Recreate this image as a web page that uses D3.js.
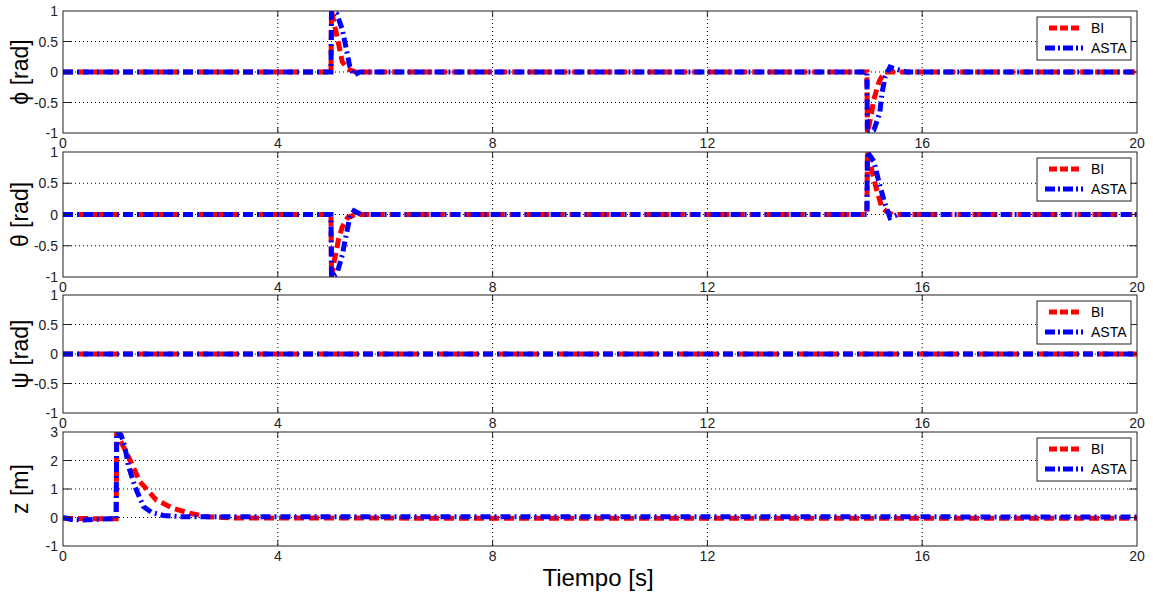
<!DOCTYPE html>
<html>
<head>
<meta charset="utf-8">
<script src="https://cdn.jsdelivr.net/npm/d3@7"></script>
<style>
body { margin: 0; background: #fff; }
svg { display: block; font-family: "Liberation Sans", Arial, sans-serif; }
</style>
</head>
<body>
<svg id="chart" width="1153" height="599"></svg>
<script>
// ticks
var xTicks = [0, 4, 8, 12, 16, 20];
var angleTicks = [-1, -0.5, 0, 0.5, 1];
var zTicks = [-1, 0, 1, 2, 3];
var legendNames = ["BI", "ASTA"];

// phi
var phiTimeBI = [0, 4.99, 5.0, 5.05, 5.13, 5.2, 5.3, 5.45, 14.97, 14.98, 15.05, 15.1, 15.2, 15.3, 20];
var phiBI     = [0, 0, 1, 0.8, 0.47, 0.17, 0.05, 0, 0, -1, -0.7, -0.45, -0.15, 0, 0];
var phiTimeASTA = [0, 4.99, 5.0, 5.1, 5.2, 5.28, 5.34, 5.42, 5.52, 14.97, 14.98, 15.1, 15.21, 15.25, 15.31, 15.4, 15.55, 15.7, 20];
var phiASTA     = [0, 0, 1, 0.95, 0.7, 0.36, 0.09, -0.05, 0, 0, -1, -0.95, -0.67, -0.35, -0.08, 0.08, 0.04, 0, 0];

// theta
var thetaTimeBI = [0, 4.99, 5.0, 5.05, 5.13, 5.2, 5.3, 5.45, 14.97, 14.98, 15.05, 15.15, 15.25, 15.33, 15.45, 20];
var thetaBI     = [0, 0, -1, -0.75, -0.4, -0.2, -0.05, 0, 0, 1, 0.75, 0.4, 0.11, 0.05, 0, 0];
var thetaTimeASTA = [0, 4.99, 5.0, 5.1, 5.2, 5.28, 5.34, 5.42, 5.55, 14.97, 14.98, 15.1, 15.2, 15.3, 15.4, 15.55, 20];
var thetaASTA     = [0, 0, -1, -0.95, -0.65, -0.3, -0.05, 0.06, 0, 0, 1, 0.85, 0.5, 0.19, -0.05, 0, 0];

// psi
var psiTimeBI = [0, 20];
var psiBI     = [0, 0];
var psiTimeASTA = [0, 20];
var psiASTA     = [0, 0];

// z
var zTimeBI = [0, 0.5, 0.99, 1.0, 1.06, 1.19, 1.43, 1.74, 2.05, 2.36, 2.68, 3.2, 20];
var zBI     = [-0.03, -0.04, -0.04, 3, 2.72, 2.25, 1.26, 0.61, 0.32, 0.15, 0.03, -0.02, -0.03];
var zTimeASTA = [0, 0.15, 0.37, 0.6, 0.85, 0.99, 1.0, 1.08, 1.15, 1.22, 1.34, 1.5, 1.65, 1.87, 2.2, 20];
var zASTA     = [0, -0.07, -0.09, -0.07, -0.04, -0.04, 3, 2.9, 2.5, 1.8, 1.08, 0.38, 0.18, 0.07, 0.03, 0.02];

var svg = d3.select("#chart");
var LEFT = 63, RIGHT = 1137;
var panels = [
    {top: 11,  bottom: 133, label: "\u03d5 [rad]", ticks: angleTicks, dom: [-1, 1], tb: phiTimeBI, b: phiBI, ta: phiTimeASTA, a: phiASTA},
    {top: 152, bottom: 277, label: "\u03b8 [rad]", ticks: angleTicks, dom: [-1, 1], tb: thetaTimeBI, b: thetaBI, ta: thetaTimeASTA, a: thetaASTA},
    {top: 295, bottom: 413, label: "\u03c8 [rad]", ticks: angleTicks, dom: [-1, 1], tb: psiTimeBI, b: psiBI, ta: psiTimeASTA, a: psiASTA},
    {top: 432, bottom: 546, label: "z [m]", ticks: zTicks, dom: [-1, 3], tb: zTimeBI, b: zBI, ta: zTimeASTA, a: zASTA}
];

var x = d3.scaleLinear().domain([0, 20]).range([LEFT, RIGHT]);

panels.forEach(function(p, i) {
    var y = d3.scaleLinear().domain(p.dom).range([p.bottom, p.top]);
    var g = svg.append("g");

    // grid
    g.selectAll(".gx").data(xTicks.slice(1, -1)).enter().append("line")
        .attr("x1", function(d) { return x(d); }).attr("x2", function(d) { return x(d); })
        .attr("y1", p.top).attr("y2", p.bottom)
        .style("stroke", "#000").style("stroke-width", 1).style("stroke-dasharray", "1,3");
    g.selectAll(".gy").data(p.ticks.slice(1, -1)).enter().append("line")
        .attr("y1", function(d) { return y(d); }).attr("y2", function(d) { return y(d); })
        .attr("x1", LEFT).attr("x2", RIGHT)
        .style("stroke", "#000").style("stroke-width", 1).style("stroke-dasharray", "1,3");

    // clip + lines
    var cid = "clip" + i;
    svg.append("clipPath").attr("id", cid).append("rect")
        .attr("x", LEFT).attr("y", p.top).attr("width", RIGHT - LEFT).attr("height", p.bottom - p.top);

    var line = d3.line().x(function(d) { return x(d[0]); }).y(function(d) { return y(d[1]); });
    var lg = g.append("g").attr("clip-path", "url(#" + cid + ")");
    lg.append("path").datum(d3.zip(p.tb, p.b)).attr("d", line)
        .style("fill", "none").style("stroke", "#ff0000").style("stroke-width", 5)
        .style("stroke-dasharray", "10,5");
    lg.append("path").datum(d3.zip(p.ta, p.a)).attr("d", line)
        .style("fill", "none").style("stroke", "#0000ff").style("stroke-width", 5)
        .style("stroke-dasharray", "10,4,2,4");

    // box
    g.append("rect").attr("x", LEFT).attr("y", p.top)
        .attr("width", RIGHT - LEFT).attr("height", p.bottom - p.top)
        .style("fill", "none").style("stroke", "#222").style("stroke-width", 1);

    // ticks inside
    xTicks.slice(1, -1).forEach(function(t) {
        g.append("line").attr("x1", x(t)).attr("x2", x(t)).attr("y1", p.bottom).attr("y2", p.bottom - 6).style("stroke", "#222");
        g.append("line").attr("x1", x(t)).attr("x2", x(t)).attr("y1", p.top).attr("y2", p.top + 6).style("stroke", "#222");
    });
    p.ticks.slice(1, -1).forEach(function(t) {
        g.append("line").attr("y1", y(t)).attr("y2", y(t)).attr("x1", LEFT).attr("x2", LEFT + 8).style("stroke", "#222");
        g.append("line").attr("y1", y(t)).attr("y2", y(t)).attr("x1", RIGHT).attr("x2", RIGHT - 8).style("stroke", "#222");
    });

    // tick labels
    g.selectAll(".xl").data(xTicks).enter().append("text")
        .attr("x", function(d) { return x(d); }).attr("y", p.bottom + 15)
        .attr("text-anchor", "middle").style("font-size", "14px").style("fill", "#222")
        .text(function(d) { return d; });
    g.selectAll(".yl").data(p.ticks).enter().append("text")
        .attr("x", 58).attr("y", function(d) { return y(d) + 5; })
        .attr("text-anchor", "end").style("font-size", "14px").style("fill", "#222")
        .text(function(d) { return d; });

    // y label
    g.append("text")
        .attr("transform", "translate(28," + ((p.top + p.bottom) / 2) + ") rotate(-90)")
        .attr("text-anchor", "middle").style("font-size", "23px").style("fill", "#000")
        .text(p.label);

    // legend
    var lx = 1037, ly = p.top + 6;
    var leg = g.append("g");
    leg.append("rect").attr("x", lx).attr("y", ly).attr("width", 94).attr("height", 43)
        .style("fill", "#fff").style("stroke", "#222").style("stroke-width", 1);
    leg.append("line").attr("x1", lx + 12).attr("x2", lx + 42).attr("y1", ly + 11).attr("y2", ly + 11)
        .style("stroke", "#ff0000").style("stroke-width", 5).style("stroke-dasharray", "8,3");
    leg.append("line").attr("x1", lx + 8).attr("x2", lx + 46).attr("y1", ly + 31).attr("y2", ly + 31)
        .style("stroke", "#0000ff").style("stroke-width", 5).style("stroke-dasharray", "10,3,2,3");
    leg.selectAll(".lt").data(legendNames).enter().append("text")
        .attr("x", lx + 54).attr("y", function(d, k) { return ly + 16 + k * 20; })
        .style("font-size", "14px").style("fill", "#000")
        .text(function(d) { return d; });
});

svg.append("text").attr("x", 598).attr("y", 586).attr("text-anchor", "middle")
    .style("font-size", "24px").style("fill", "#000").text("Tiempo [s]");
</script>
</body>
</html>
